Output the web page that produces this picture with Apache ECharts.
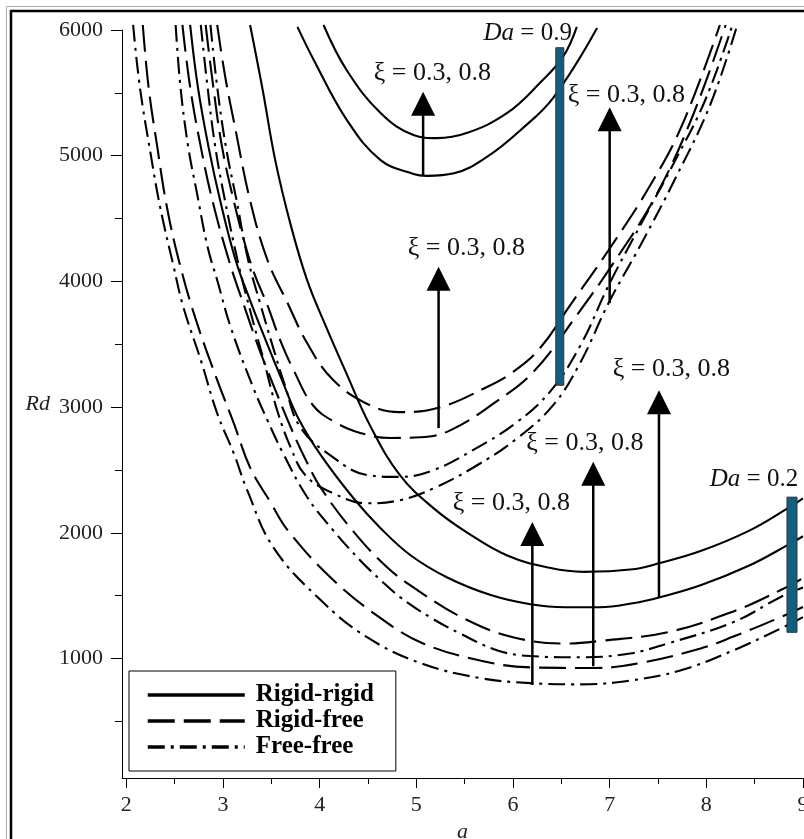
<!DOCTYPE html>
<html><head><meta charset="utf-8">
<script src="https://cdn.jsdelivr.net/npm/echarts@6/dist/echarts.min.js"></script>
<style>html,body{margin:0;padding:0;background:#fff;overflow:hidden}#c{width:804px;height:839px}</style>
</head><body><div id="c"></div>
<script>
// ---- axis ticks ----
const xTicks = [2, 3, 4, 5, 6, 7, 8, 9];
const xMinorTicks = [2.5, 3.5, 4.5, 5.5, 6.5, 7.5, 8.5];
const yTicks = [1000, 2000, 3000, 4000, 5000, 6000];
const yMinorTicks = [500, 1500, 2500, 3500, 4500, 5500];

// ---- curves [a, Rd] ----
// Da = 0.9
const rrDa09Xi08 = [[4.04,6040],[4.28,5680],[4.63,5340],[4.97,5165],[5.21,5140],[5.52,5180],[5.94,5340],[6.28,5580],[6.52,5790],[6.66,6025]];
const rrDa09Xi03 = [[3.77,6025],[3.94,5760],[4.28,5285],[4.63,4965],[4.97,4855],[5.11,4840],[5.39,4860],[5.73,4990],[6.08,5205],[6.42,5465],[6.87,6015]];
const rfDa09Xi08 = [[2.94,6040],[3.02,5640],[3.13,5205],[3.28,4645],[3.46,4170],[3.67,3825],[3.87,3510],[4.14,3215],[4.52,3015],[4.83,2960],[5.25,3000],[5.73,3160],[6.00,3280],[6.28,3470],[6.59,3810],[6.99,4250],[7.42,4765],[7.75,5245],[8.14,6040]];
const rfDa09Xi03 = [[2.82,6040],[2.90,5545],[2.99,5070],[3.11,4645],[3.23,4290],[3.33,4050],[3.46,3810],[3.59,3535],[3.73,3295],[3.93,3015],[4.16,2880],[4.42,2795],[4.73,2755],[5.04,2760],[5.35,2815],[5.80,3030],[6.21,3280],[6.64,3710],[7.06,4170],[7.48,4685],[7.85,5300],[8.20,6040]];
const ffDa09Xi08 = [[2.87,6040],[2.94,5545],[3.03,5070],[3.14,4645],[3.26,4170],[3.39,3810],[3.51,3495],[3.64,3175],[3.80,2840],[4.14,2600],[4.49,2460],[4.83,2445],[5.18,2500],[5.59,2660],[6.04,2880],[6.39,3130],[6.70,3495],[6.99,3970],[7.32,4450],[7.68,4965],[7.99,5445],[8.27,6040]];
const ffDa09Xi03 = [[2.77,6040],[2.84,5545],[2.92,5070],[3.02,4645],[3.15,4170],[3.28,3770],[3.42,3375],[3.56,2975],[3.70,2680],[3.85,2460],[4.14,2315],[4.49,2235],[4.83,2260],[5.18,2355],[5.59,2520],[6.04,2750],[6.42,3020],[6.70,3360],[6.99,3830],[7.32,4290],[7.68,4820],[8.04,5405],[8.32,6040]];
// Da = 0.2
const rrDa02Xi08 = [[3.28,6040],[3.41,5525],[3.54,4965],[3.70,4450],[3.87,4010],[4.06,3650],[4.27,3280],[4.52,2855],[4.83,2460],[5.18,2195],[5.53,2000],[5.94,1820],[6.39,1720],[6.73,1690],[7.24,1710],[7.52,1760],[7.94,1855],[8.45,2020],[8.84,2195],[9.00,2275]];
const rrDa02Xi03 = [[2.66,6040],[2.74,5545],[2.85,5070],[2.97,4645],[3.13,4170],[3.28,3850],[3.44,3535],[3.61,3215],[3.78,2910],[4.01,2620],[4.35,2275],[4.63,2037],[4.94,1822],[5.32,1645],[5.77,1505],[6.18,1432],[6.54,1408],[6.90,1408],[7.24,1440],[7.52,1488],[7.94,1583],[8.45,1742],[8.84,1902],[9.00,1973]];
const rfDa02Xi08 = [[2.58,6040],[2.66,5545],[2.77,5070],[2.89,4645],[3.06,4170],[3.23,3780],[3.39,3430],[3.55,3120],[3.70,2840],[3.85,2590],[4.01,2360],[4.35,2010],[4.70,1725],[5.01,1545],[5.49,1320],[6.00,1170],[6.56,1120],[6.90,1140],[7.60,1210],[8.28,1375],[8.77,1545],[9.00,1640]];
const rfDa02Xi03 = [[2.17,6040],[2.23,5545],[2.32,5070],[2.42,4590],[2.56,4115],[2.73,3670],[2.94,3215],[3.11,2875],[3.28,2520],[3.49,2245],[3.67,2020],[4.14,1625],[4.66,1305],[5.07,1120],[5.66,985],[6.18,930],[6.83,925],[7.32,965],[7.94,1080],[8.28,1175],[8.77,1330],[9.00,1410]];
const ffDa02Xi08 = [[2.51,6040],[2.56,5545],[2.64,5070],[2.73,4705],[2.84,4275],[2.94,4010],[3.08,3635],[3.31,3160],[3.46,2895],[3.62,2635],[3.87,2285],[4.14,2020],[4.42,1780],[4.63,1625],[4.83,1490],[5.14,1330],[5.45,1200],[5.84,1065],[6.18,1020],[6.70,1010],[7.21,1040],[7.60,1120],[8.28,1290],[8.77,1490],[9.00,1565]];
const ffDa02Xi03 = [[2.07,6040],[2.14,5545],[2.25,5020],[2.35,4590],[2.49,4115],[2.59,3795],[2.77,3375],[2.94,2950],[3.11,2635],[3.25,2340],[3.52,1885],[4.01,1465],[4.49,1170],[5.04,965],[5.66,845],[6.18,805],[6.70,795],[7.21,825],[7.73,905],[8.28,1065],[8.77,1240],[9.00,1330]];

// ---- annotations ----
// arrows: [a, Rd at tail, Rd at tip]
const arrows = [[5.07,4838,5509],[5.23,2833,4116],[7.00,3828,5385],[7.51,1490,3135],[6.83,939,2565],[6.20,790,2087]];
// ξ labels: [a, Rd] (centre)
const xiLabelPos = [[5.165,5658],[5.517,4265],[7.172,5483],[7.638,3302],[6.743,2713],[5.983,2236]];
const xiLabelText = 'ξ = 0.3, 0.8';
// Da bars: [a, Rd top, Rd bottom]
const daBars = [[6.484,5859,3174],[8.886,2284,1209]];
// Da labels: [a (right edge), Rd]
const daLabelPos = [[6.61,5976],[8.95,2427]];
const daLabelVal = ['0.9', '0.2'];

const FONT = '"Liberation Serif","Times New Roman",serif';
const chart = echarts.init(document.getElementById('c'), null, {renderer:'canvas'});

function curve(name, data, type) {
  return {type:'line', name, data, smooth:0.4, symbol:'none', clip:false, z:3,
    lineStyle:{color:'#000', width:2.1, type}, itemStyle:{color:'#000'}};
}
const DASH = [27, 9];
const DASHDOT = [17, 6, 3, 6];

const series = [
  curve('Rigid-rigid', rrDa09Xi08, 'solid'),
  curve('Rigid-free', rfDa09Xi08, DASH),
  curve('Free-free', ffDa09Xi08, DASHDOT),
  curve('Rigid-rigid', rrDa09Xi03, 'solid'),
  curve('Rigid-free', rfDa09Xi03, DASH),
  curve('Free-free', ffDa09Xi03, DASHDOT),
  curve('Rigid-rigid', rrDa02Xi08, 'solid'),
  curve('Rigid-rigid', rrDa02Xi03, 'solid'),
  curve('Rigid-free', rfDa02Xi08, DASH),
  curve('Rigid-free', rfDa02Xi03, DASH),
  curve('Free-free', ffDa02Xi08, DASHDOT),
  curve('Free-free', ffDa02Xi03, DASHDOT),
  { type:'custom', name:'bars', z:5, clip:false, data: daBars, encode:{x:0, y:[1,2]},
    renderItem:(params, api) => {
      const p0 = api.coord([api.value(0), api.value(1)]);
      const p1 = api.coord([api.value(0), api.value(2)]);
      const w = params.dataIndex === 0 ? 8 : 10;
      return {type:'rect', shape:{x:p0[0]-w/2, y:p0[1], width:w, height:p1[1]-p0[1]},
        style:{fill:'#0f6080', stroke:'#333', lineWidth:1}};
    }},
  { type:'custom', name:'arrows', z:6, clip:false, data: arrows, encode:{x:0, y:[1,2]},
    renderItem:(params, api) => {
      const p0 = api.coord([api.value(0), api.value(1)]);
      const p1 = api.coord([api.value(0), api.value(2)]);
      const hw = 12, hh = 24;
      return {type:'group', children:[
        {type:'line', shape:{x1:p0[0], y1:p0[1], x2:p1[0], y2:p1[1]+hh-2}, style:{stroke:'#000', lineWidth:2.5}},
        {type:'polygon', shape:{points:[[p1[0],p1[1]],[p1[0]-hw,p1[1]+hh],[p1[0]+hw,p1[1]+hh]]}, style:{fill:'#000'}}
      ]};
    }},
  { type:'custom', name:'xiLabels', z:7, clip:false, data: xiLabelPos, encode:{x:0, y:1},
    renderItem:(params, api) => {
      const p = api.coord([api.value(0), api.value(1)]);
      return {type:'text', x:p[0], y:p[1], style:{text:xiLabelText, font:'26px '+FONT, fill:'#111', align:'center', verticalAlign:'middle'}};
    }},
  { type:'custom', name:'daLabels', z:7, clip:false, data: daLabelPos, encode:{x:0, y:1},
    renderItem:(params, api) => {
      const p = api.coord([api.value(0), api.value(1)]);
      return {type:'text', x:p[0], y:p[1], style:{text:'{i|Da} = ' + daLabelVal[params.dataIndex], fontFamily:FONT, fontSize:25, fill:'#111', align:'right', verticalAlign:'middle',
        rich:{i:{fontStyle:'italic', fontFamily:FONT, fontSize:25, fill:'#111'}}}};
    }}
];

const axisLabelStyle = {fontFamily:FONT, fontSize:22, color:'#222', formatter:(v) => String(v)};

chart.setOption({
  animation:false,
  backgroundColor:'#fff',
  grid:{left:122, right:1, top:30, bottom:61, containLabel:false, outerBoundsMode:'none'},
  xAxis:[
    {type:'value', min:1.955, max:9, position:'bottom',
     axisLine:{show:true, onZero:false, lineStyle:{color:'#000', width:1}},
     axisTick:{show:true, length:10, customValues:xTicks, lineStyle:{color:'#000'}},
     axisLabel:Object.assign({customValues:xTicks, margin:16}, axisLabelStyle),
     splitLine:{show:false},
     name:'a', nameLocation:'middle', nameGap:37,
     nameTextStyle:{fontFamily:FONT, fontStyle:'italic', fontSize:22, color:'#222'}},
    {type:'value', min:1.955, max:9, position:'bottom',
     axisLine:{show:false, onZero:false},
     axisTick:{show:true, length:6, customValues:xMinorTicks, lineStyle:{color:'#000'}},
     axisLabel:{show:false}, splitLine:{show:false}}
  ],
  yAxis:[
    {type:'value', min:50, max:6000, position:'left',
     axisLine:{show:true, onZero:false, lineStyle:{color:'#000', width:1}},
     axisTick:{show:true, length:11, customValues:yTicks, lineStyle:{color:'#000'}},
     axisLabel:Object.assign({customValues:yTicks, margin:19}, axisLabelStyle),
     splitLine:{show:false},
     name:'Rd', nameLocation:'middle', nameRotate:0, nameGap:72,
     nameTextStyle:{fontFamily:FONT, fontStyle:'italic', fontSize:22, color:'#222'}},
    {type:'value', min:50, max:6000, position:'left',
     axisLine:{show:false, onZero:false},
     axisTick:{show:true, length:7, customValues:yMinorTicks, lineStyle:{color:'#000'}},
     axisLabel:{show:false}, splitLine:{show:false}}
  ],
  legend:{
    data:['Rigid-rigid','Rigid-free','Free-free'],
    orient:'vertical', left:129, top:671,
    padding:[11, 22, 11, 17], itemGap:0, itemWidth:97, itemHeight:26,
    borderColor:'#000', borderWidth:1, backgroundColor:'#fff',
    lineStyle:{width:3.5},
    itemStyle:{opacity:0},
    textStyle:{fontFamily:FONT, fontWeight:'bold', fontSize:25, color:'#000', lineHeight:26, padding:[0,0,0,6]},
    selectedMode:false
  },
  graphic:[
    {type:'line', silent:true, shape:{x1:6.5, y1:6.5, x2:6.5, y2:839}, style:{stroke:'#aaa', lineWidth:1}},
    {type:'line', silent:true, shape:{x1:6.5, y1:6.5, x2:804, y2:6.5}, style:{stroke:'#aaa', lineWidth:1}},
    {type:'polyline', silent:true, shape:{points:[[11,839],[11,11],[804,11]]}, style:{stroke:'#000', lineWidth:2.5, fill:null}}
  ],
  series
});
</script></body></html>
